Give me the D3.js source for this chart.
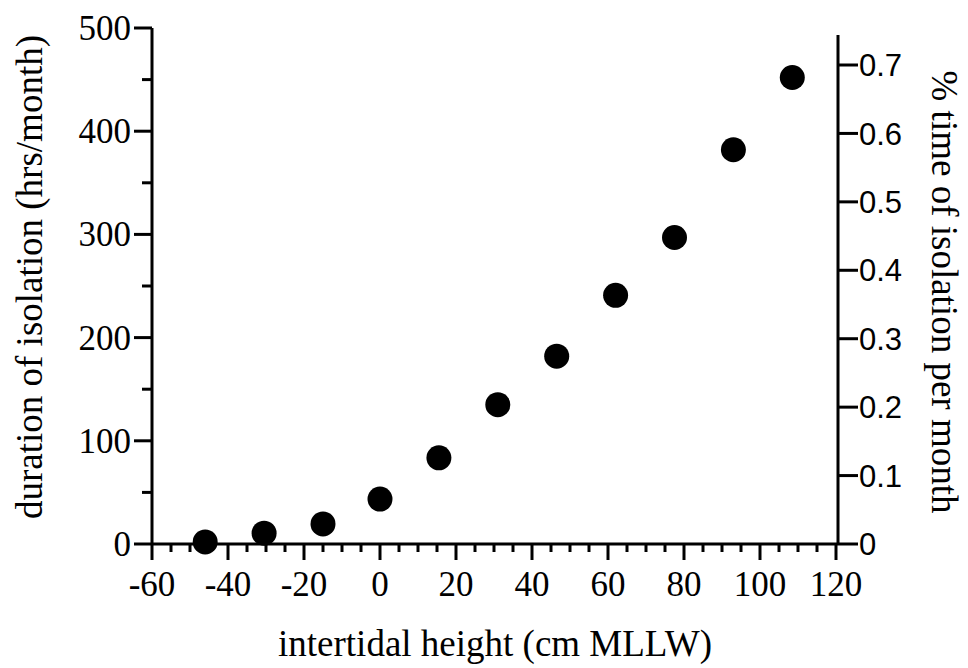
<!DOCTYPE html>
<html>
<head>
<meta charset="utf-8">
<script src="https://cdn.jsdelivr.net/npm/d3@7/dist/d3.min.js"></script>
<style>
  html, body { margin: 0; padding: 0; background: #fff; }
  svg { display: block; }
  .serif { font-family: "Liberation Serif", "Times New Roman", serif; }
  .sans { font-family: "Liberation Sans", Arial, sans-serif; }
</style>
</head>
<body>
<svg id="chart" width="968" height="668"></svg>
<script>
// Intertidal height (cm MLLW) and monthly duration of emersion (hrs/month)
const heights = [-46, -30.5, -15, 0, 15.5, 31, 46.5, 62, 77.5, 93, 108.5];
const durations = [2, 10.5, 19.5, 43.5, 83.5, 135, 182, 241, 297, 382, 452];

// Tick values for the three axes
const xTicks = [-60, -40, -20, 0, 20, 40, 60, 80, 100, 120];
const xMinorTicks = d3.range(-60, 121, 5);
const yTicks = [0, 100, 200, 300, 400, 500];
const yMinorTicks = [50, 150, 250, 350, 450];
const pctTicks = [0, 0.1, 0.2, 0.3, 0.4, 0.5, 0.6, 0.7];

const svg = d3.select("#chart");
const ink = "#000";
const axisW = 3;

const x = d3.scaleLinear().domain([-60, 120]).range([152, 836]);
const y = d3.scaleLinear().domain([0, 500]).range([544, 28]);
const yPct = d3.scaleLinear().domain([0, 0.7]).range([544, 65]);
const rightX = 838;

// Axis lines
svg.append("line").attr("x1", x(-60)).attr("x2", x(-60))
  .attr("y1", y(0)).attr("y2", y(500))
  .attr("stroke", ink).attr("stroke-width", axisW);
svg.append("line").attr("x1", x(-60)).attr("x2", rightX)
  .attr("y1", y(0)).attr("y2", y(0))
  .attr("stroke", ink).attr("stroke-width", axisW);
svg.append("line").attr("x1", rightX).attr("x2", rightX)
  .attr("y1", yPct(0)).attr("y2", 35)
  .attr("stroke", ink).attr("stroke-width", axisW);

// Left axis ticks and labels
svg.selectAll(".ytick").data(yTicks).join("line")
  .attr("x1", x(-60) - 18).attr("x2", x(-60))
  .attr("y1", d => y(d)).attr("y2", d => y(d))
  .attr("stroke", ink).attr("stroke-width", axisW);
svg.selectAll(".yminor").data(yMinorTicks).join("line")
  .attr("x1", x(-60) - 10).attr("x2", x(-60))
  .attr("y1", d => y(d)).attr("y2", d => y(d))
  .attr("stroke", ink).attr("stroke-width", axisW);
svg.append("g").selectAll("text").data(yTicks).join("text")
  .attr("class", "serif")
  .attr("x", x(-60) - 21).attr("y", d => y(d))
  .attr("dy", "0.34em")
  .attr("text-anchor", "end")
  .attr("font-size", 35)
  .text(d => d);

// Bottom axis ticks and labels
svg.append("g").selectAll("line").data(xMinorTicks.filter(v => v % 20 !== 0)).join("line")
  .attr("x1", d => x(d)).attr("x2", d => x(d))
  .attr("y1", y(0)).attr("y2", y(0) + 8)
  .attr("stroke", ink).attr("stroke-width", axisW);
svg.append("g").selectAll("line").data(xTicks).join("line")
  .attr("x1", d => x(d)).attr("x2", d => x(d))
  .attr("y1", y(0)).attr("y2", y(0) + 16)
  .attr("stroke", ink).attr("stroke-width", axisW);
svg.append("g").selectAll("text").data(xTicks).join("text")
  .attr("class", "serif")
  .attr("x", d => x(d)).attr("y", 596)
  .attr("text-anchor", "middle")
  .attr("font-size", 35)
  .text(d => d);

// Right axis ticks and labels
svg.append("g").selectAll("line").data(pctTicks).join("line")
  .attr("x1", rightX).attr("x2", rightX + 20)
  .attr("y1", d => yPct(d)).attr("y2", d => yPct(d))
  .attr("stroke", ink).attr("stroke-width", axisW);
svg.append("g").selectAll("text").data(pctTicks).join("text")
  .attr("class", "sans")
  .attr("x", rightX + 21).attr("y", d => yPct(d))
  .attr("dy", "0.36em")
  .attr("font-size", 31)
  .text(d => d === 0 ? "0" : d3.format(".1f")(d));

// Data points
svg.append("g").selectAll("circle").data(heights.map((h, i) => [h, durations[i]])).join("circle")
  .attr("cx", d => x(d[0])).attr("cy", d => y(d[1]))
  .attr("r", 12.5).attr("fill", ink);

// Axis titles
svg.append("text").attr("class", "serif")
  .attr("transform", "translate(42,277) rotate(-90)")
  .attr("text-anchor", "middle").attr("font-size", 37)
  .text("duration of isolation (hrs/month)");
svg.append("text").attr("class", "serif")
  .attr("transform", "translate(932,292) rotate(90)")
  .attr("text-anchor", "middle").attr("font-size", 37)
  .text("% time of isolation per month");
svg.append("text").attr("class", "serif")
  .attr("x", 495).attr("y", 656)
  .attr("text-anchor", "middle").attr("font-size", 37)
  .text("intertidal height (cm MLLW)");
</script>
</body>
</html>
